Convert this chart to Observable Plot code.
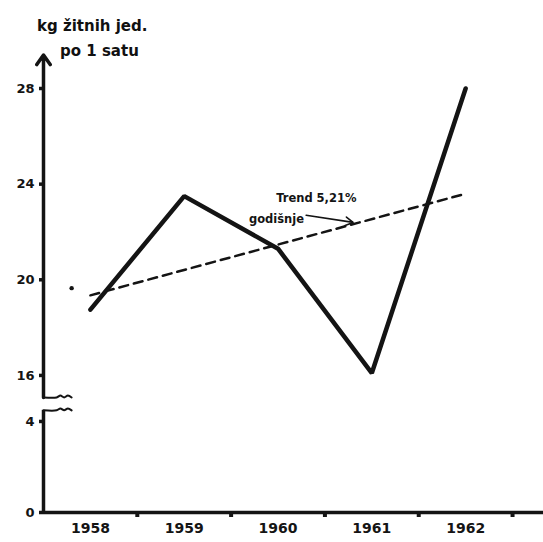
<!DOCTYPE html>
<html>
<head>
<meta charset="utf-8">
<script src="https://cdn.jsdelivr.net/npm/d3@7"></script>
<script src="https://cdn.jsdelivr.net/npm/@observablehq/plot@0.6"></script>
<style>
  body { margin: 0; background: #fff; }
  #wrap { position: relative; width: 543px; height: 542px; }
  #title { position: absolute; left: 37px; top: 14px; font-family: "DejaVu Sans", sans-serif; font-weight: bold; font-size: 15px; line-height: 25px; color: #111; }
  #title .l2 { padding-left: 23px; }
  #chart { position: absolute; left: 0; top: 0; }
</style>
</head>
<body>
<div id="wrap">
  <div id="chart"></div>
  <div id="title"><div>kg žitnih jed.</div><div class="l2">po 1 satu</div></div>
</div>
<script>
// Data
const years = [1958, 1959, 1960, 1961, 1962];
const values = [18.75, 23.5, 21.3, 16.1, 28.0];
const trendYears = [1958, 1962];
const trendValues = [19.35, 23.6];
const dotYears = [1957.8];
const dotValues = [19.65];
const yTicks = [0, 4, 16, 20, 24, 28];
const yTickLabels = ["0", "4", "16", "20", "24", "28"];
const xTickLabels = ["1958", "1959", "1960", "1961", "1962"];
const xSepTicks = [1958.5, 1959.5, 1960.5, 1961.5, 1962.5];
const trendLabel = "Trend 5,21%";
const trendLabel2 = "godišnje";
// axis break (in data units)
const axisLow = [0, 6.9];
const axisHigh = [10.25, 29.4];
const breakLow = [[1957.5, 6.9], [1957.64, 6.9], [1957.68, 7.4], [1957.72, 6.9], [1957.76, 7.4], [1957.80, 6.9]];
const breakHigh = [[1957.5, 10.25], [1957.64, 10.25], [1957.68, 10.75], [1957.72, 10.25], [1957.76, 10.75], [1957.80, 10.25]];
const arrowFrom = [1960.30, 22.7];
const arrowTo = [1960.80, 22.4];

// broken-axis mapping: lower segment 0–4, compressed gap 4–16, upper segment 16+
const T = v => v <= 4 ? v * 22.75 : v <= 16 ? 91 + (v - 4) * 46 / 12 : 137 + (v - 16) * 23.9;

const series = years.map((y, i) => ({year: y, value: values[i]}));
const trend = trendYears.map((y, i) => ({year: y, value: trendValues[i]}));
const dots = dotYears.map((y, i) => ({year: y, value: dotValues[i]}));
const fmtX = new Map(years.map((y, i) => [y, xTickLabels[i]]));
const fmtY = new Map(yTicks.map((t, i) => [T(t), yTickLabels[i]]));
const ink = "#141414";
const Y = d => T(d.value);

const chart = Plot.plot({
  width: 543,
  height: 542,
  marginLeft: 43,
  marginRight: 0,
  marginTop: 0,
  marginBottom: 30,
  style: {fontFamily: "DejaVu Sans, sans-serif", color: ink, background: "#fff"},
  x: {domain: [1957.5, 1962.83], range: [43, 543]},
  y: {type: "linear", domain: [0, T(28)], range: [512, 88]},
  marks: [
    // broken y axis
    Plot.ruleX([1957.5], {y1: T(axisLow[0]), y2: T(axisLow[1]), stroke: ink, strokeWidth: 3.5}),
    Plot.arrow([0], {x1: 1957.5, x2: 1957.5, y1: T(axisHigh[0]), y2: T(axisHigh[1]), stroke: ink, strokeWidth: 3.5, headLength: 5, headAngle: 70}),
    Plot.line(breakLow, {x: d => d[0], y: d => T(d[1]), curve: "catmull-rom", stroke: ink, strokeWidth: 2}),
    Plot.line(breakHigh, {x: d => d[0], y: d => T(d[1]), curve: "catmull-rom", stroke: ink, strokeWidth: 2}),
    // x axis line
    Plot.ruleY([0], {stroke: ink, strokeWidth: 3.5}),
    Plot.axisY({ticks: yTicks.map(T), tickFormat: d => fmtY.get(d), tickSize: 4, tickPadding: 5, strokeWidth: 3.5, fontSize: 13, fontWeight: "bold", label: null}),
    Plot.axisX({ticks: years, tickFormat: d => fmtX.get(d), tickSize: 0, tickPadding: 11, fontSize: 14, fontWeight: "bold", label: null}),
    Plot.axisX({ticks: xSepTicks, tickFormat: () => "", tickSize: 5, strokeWidth: 4, label: null}),
    // trend
    Plot.line(trend, {x: "year", y: Y, stroke: ink, strokeWidth: 2.5, strokeDasharray: "9,6"}),
    Plot.dot(dots, {x: "year", y: Y, r: 2.2, fill: ink}),
    // data line
    Plot.line(series, {x: "year", y: Y, stroke: ink, strokeWidth: 4.5, strokeLinejoin: "miter", strokeLinecap: "round"}),
    // annotation
    Plot.text([trendLabel], {x: 1959.98, y: T(23.4), text: d => d, textAnchor: "start", fontSize: 11.5, fontWeight: "bold", fill: ink}),
    Plot.text([trendLabel2], {x: 1959.69, y: T(22.55), text: d => d, textAnchor: "start", fontSize: 11.5, fontWeight: "bold", fill: ink}),
    Plot.arrow([0], {x1: arrowFrom[0], y1: T(arrowFrom[1]), x2: arrowTo[0], y2: T(arrowTo[1]), stroke: ink, strokeWidth: 1.6, headLength: 8})
  ]
});
document.getElementById("chart").append(chart);
</script>
</body>
</html>
